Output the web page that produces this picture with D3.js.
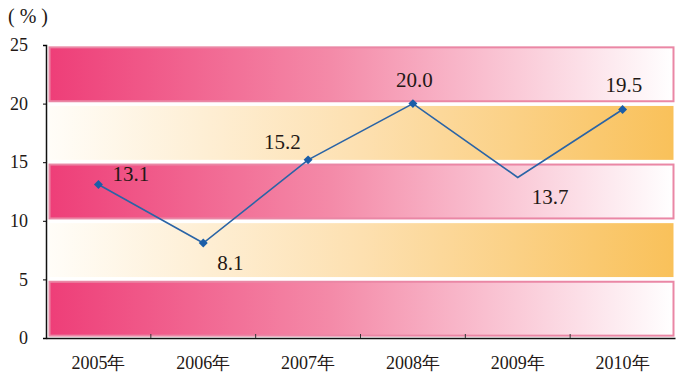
<!DOCTYPE html>
<html><head><meta charset="utf-8">
<script src="https://cdnjs.cloudflare.com/ajax/libs/d3/7.8.5/d3.min.js"></script>
</head><body style="margin:0">
<script>
const categories = ["2005年","2006年","2007年","2008年","2009年","2010年"];
const values = [13.1, 8.1, 15.2, 20.0, 13.7, 19.5];
const yTicks = [0, 5, 10, 15, 20, 25];
const bandRanges = [[0,5,"pink"],[5,10,"orange"],[10,15,"pink"],[15,20,"orange"],[20,25,"pink"]];
const showMarker = [true, true, true, true, false, true];
const labelPos = ["ur","lr","ul","u","lr","u"];

const W = 695, H = 378;
const FONT = '"Liberation Serif"';
const svg = d3.select("body").append("svg").attr("width", W).attr("height", H)
  .style("display","block").style("font-family", FONT);
const mLeft = 46, mRight = 675, mTop = 45, mBottom = 338;
const x = d3.scaleBand().domain(categories).range([mLeft, mRight]);
const y = d3.scaleLinear().domain([0, 25]).range([mBottom, mTop]);

const defs = svg.append("defs");
const gp = defs.append("linearGradient").attr("id","gp");
gp.append("stop").attr("offset","0%").attr("stop-color","#ee3e78");
gp.append("stop").attr("offset","45%").attr("stop-color","#f48aa8");
gp.append("stop").attr("offset","100%").attr("stop-color","#ffffff");
const go = defs.append("linearGradient").attr("id","go");
go.append("stop").attr("offset","0%").attr("stop-color","#fffdf8");
go.append("stop").attr("offset","50%").attr("stop-color","#fde0b0");
go.append("stop").attr("offset","100%").attr("stop-color","#f9c15a");

svg.append("g").selectAll("rect").data(bandRanges).join("rect")
  .attr("x", mLeft + 3.5)
  .attr("width", mRight - mLeft - 5)
  .attr("y", d => y(d[1] - 0.2))
  .attr("height", d => y(d[0] + 0.2) - y(d[1] - 0.2))
  .attr("fill", d => d[2] === "pink" ? "url(#gp)" : "url(#go)")
  .attr("stroke", d => d[2] === "pink" ? "#ea87a5" : "none")
  .attr("stroke-width", 2);

const yAxis = svg.append("g").attr("transform", `translate(${mLeft},0)`)
  .call(d3.axisLeft(y).tickValues(yTicks).tickSize(3).tickPadding(15));
yAxis.attr("font-family", null).style("font-family", FONT);
yAxis.select(".domain").attr("stroke","#111").attr("stroke-width",1.5);
yAxis.selectAll("text").style("font-family", FONT).attr("font-size", 18).attr("fill","#231815");

const xAxis = svg.append("g").attr("transform", `translate(0,${mBottom})`)
  .call(d3.axisBottom(x).tickSize(0).tickPadding(18));
xAxis.attr("font-family", null).style("font-family", FONT);
xAxis.select(".domain").attr("stroke","#111").attr("stroke-width",1.5);
xAxis.selectAll("text").style("font-family", FONT).attr("font-size", 18).attr("fill","#231815");
svg.append("g").selectAll("line").data(categories.slice(1)).join("line")
  .attr("x1", d => x(d)).attr("x2", d => x(d))
  .attr("y1", mBottom).attr("y2", mBottom - 4)
  .attr("stroke","#333").attr("stroke-width",1);

svg.append("text").attr("x", 8).attr("y", 23).style("font-family", FONT)
  .attr("font-size", 20).attr("fill","#231815").text("( % )");

const cx = (d,i) => x(categories[i]) + x.bandwidth()/2;
const line = d3.line().x((d,i)=>cx(d,i)).y(d=>y(d));
svg.append("path").datum(values).attr("d", line)
  .attr("fill","none").attr("stroke","#2a64a6").attr("stroke-width",1.6);

svg.append("g").selectAll("path").data(values.map((v,i)=>({v,i})).filter(d=>showMarker[d.i])).join("path")
  .attr("d", d3.symbol().type(d3.symbolSquare).size(40))
  .attr("transform", d => `translate(${cx(d.v,d.i)},${y(d.v)}) rotate(45)`)
  .attr("fill","#1b5ea8");

const off = {ur:[14,-3], lr:[14,27], ul:[-44,-11], u:[-17,-17]};
svg.append("g").selectAll("text").data(values).join("text")
  .attr("x", (d,i) => cx(d,i) + off[labelPos[i]][0])
  .attr("y", (d,i) => y(d) + off[labelPos[i]][1])
  .style("font-family", FONT)
  .attr("font-size", 21).attr("fill","#231815")
  .text(d => d.toFixed(1));
</script>
</body></html>
